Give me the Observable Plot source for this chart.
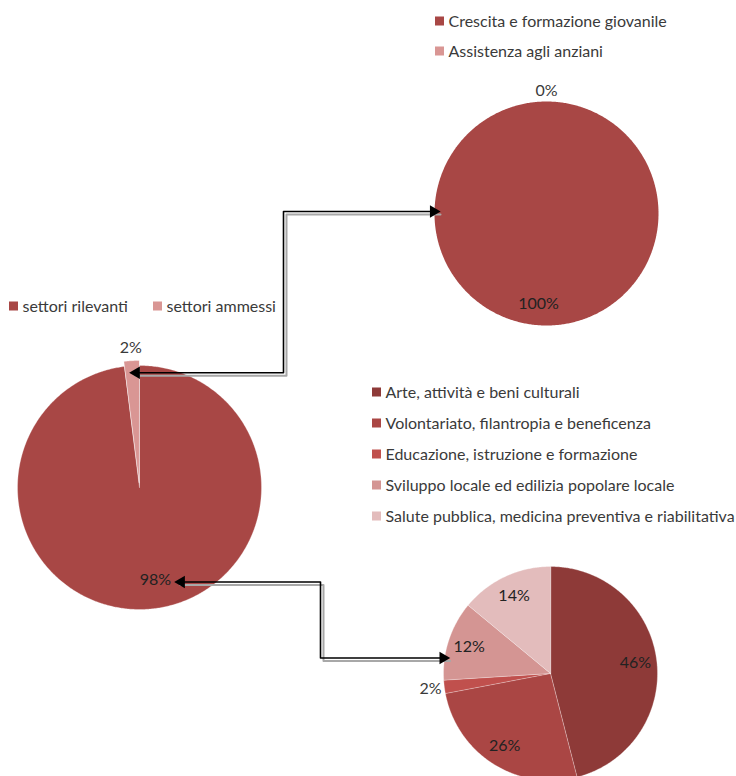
<!DOCTYPE html>
<html>
<head>
<meta charset="utf-8">
<script src="https://cdn.jsdelivr.net/npm/d3@7"></script>
<script src="https://cdn.jsdelivr.net/npm/@observablehq/plot@0.6"></script>
<style>
  body { margin: 0; background: #fff; }
</style>
</head>
<body>
<div id="chart"></div>
<script>
// ---------- DATA ----------
const mainCategories = ["settori rilevanti", "settori ammessi"];
const mainValues = [98, 2];
const mainColors = ["#A84745", "#D99694"];

const topCategories = ["Crescita e formazione giovanile", "Assistenza agli anziani"];
const topValues = [100, 0];
const topColors = ["#A84745", "#D99694"];

const detailCategories = [
  "Arte, attività e beni culturali",
  "Volontariato, filantropia e beneficenza",
  "Educazione, istruzione e formazione",
  "Sviluppo locale ed edilizia popolare locale",
  "Salute pubblica, medicina preventiva e riabilitativa"
];
const detailValues = [46, 26, 2, 12, 14];
const detailColors = ["#8E3A38", "#AA4644", "#C0504D", "#D49593", "#E3BCBC"];

// ---------- LAYOUT ----------
const W = 736, H = 776;
const FONT = "Lato, 'Open Sans', sans-serif";
const FS = 16;
const TEXT = "#3a3a3a";

const pies = [
  { id: "main",   cats: mainCategories,   vals: mainValues,   colors: mainColors,
    cx: 139, cy: 487, r: 122, inR: 0.76, outOff: 18, explode: { 1: 5 }, labelDx: [10, 0] },
  { id: "top",    cats: topCategories,    vals: topValues,    colors: topColors,
    cx: 546, cy: 213, r: 112, inR: 0.81, outOff: 11, explode: {}, labelDx: [-8, 0] },
  { id: "detail", cats: detailCategories, vals: detailValues, colors: detailColors,
    cx: 550, cy: 673, r: 107, inR: 0.80, outOff: 14, explode: {}, labelDx: [0, 0, 0, 0, 0] }
];

const legends = [
  { pie: "top",    x: [435, 435], y: [21, 51] },
  { pie: "main",   x: [9, 153],   y: [306, 306] },
  { pie: "detail", x: [372, 372, 372, 372, 372], y: [392, 423, 454, 485, 516] }
];

// ---------- GEOMETRY ----------
const sliceVerts = [];
const labels = [];
const anchors = {};
for (const p of pies) {
  const arcs = d3.pie().sort(null).startAngle(0).endAngle(2 * Math.PI)(p.vals);
  anchors[p.id] = [];
  arcs.forEach((a, i) => {
    const mid = (a.startAngle + a.endAngle) / 2;
    const ex = p.explode[i] || 0;
    const cx = p.cx + ex * Math.sin(mid), cy = p.cy - ex * Math.cos(mid);
    const key = p.id + i;
    const span = a.endAngle - a.startAngle;
    if (span > 0) {
      const full = span >= 2 * Math.PI - 1e-9;
      if (!full) sliceVerts.push({ key, x: cx, y: cy, color: p.colors[i], full });
      const n = Math.max(2, Math.ceil(span / 0.01));
      for (let k = 0; k <= (full ? n - 1 : n); k++) {
        const t = a.startAngle + span * k / n;
        sliceVerts.push({ key, x: cx + p.r * Math.sin(t), y: cy - p.r * Math.cos(t), color: p.colors[i], full });
      }
    }
    const pct = Math.round(100 * p.vals[i] / d3.sum(p.vals)) + "%";
    const outside = p.vals[i] < 5;
    const lr = outside ? p.r + p.outOff : p.r * p.inR;
    const lx = p.cx + lr * Math.sin(mid) + (p.labelDx[i] || 0);
    const ly = p.cy - lr * Math.cos(mid);
    labels.push({ x: lx, y: ly, text: pct, outside });
    anchors[p.id].push({ mid, lx, ly, cx: p.cx, cy: p.cy, r: p.r });
  });
}

// connectors (elbow lines between pies), derived from pie geometry
const mA = anchors.main[1], tA = anchors.top[0];
const mB = anchors.main[0], dB = anchors.detail[3];
const connectors = [
  { id: "c1",
    start: [mA.cx + (mA.r - 7) * Math.sin(mA.mid), mA.cy - (mA.r - 7) * Math.cos(mA.mid)],
    elbowX: 283,
    end: [tA.cx - tA.r + 3, tA.cy - 2] },
  { id: "c2",
    start: [mB.lx + 22, mB.ly + 2],
    elbowX: 320,
    end: [dB.lx - 22, dB.ly + 11] }
];
const connPts = [], shadowPts = [], heads = [];
for (const c of connectors) {
  const pts = [c.start, [c.elbowX, c.start[1]], [c.elbowX, c.end[1]], c.end];
  pts.forEach(([x, y]) => {
    connPts.push({ key: c.id, x, y });
    shadowPts.push({ key: c.id, x: x + 3, y: y + 3 });
  });
  heads.push({ x: c.start[0] + 4, y: c.start[1], rot: -90 });
  heads.push({ x: c.end[0] - 4, y: c.end[1], rot: 90 });
}

// legend items
const legendItems = [];
for (const L of legends) {
  const p = pies.find(d => d.id === L.pie);
  p.cats.forEach((c, i) => legendItems.push({ x: L.x[i], y: L.y[i], text: c, color: p.colors[i] }));
}

// ---------- PLOT ----------
const chart = Plot.plot({
  width: W, height: H, margin: 0,
  x: { domain: [0, W], range: [0, W], axis: null },
  y: { domain: [0, H], range: [0, H], axis: null },
  color: { type: "identity" },
  style: { fontFamily: FONT, background: "white", overflow: "hidden" },
  marks: [
    Plot.line(sliceVerts.filter(d => d.full), { x: "x", y: "y", z: "key", fill: "color", stroke: "none", curve: "linear-closed" }),
    Plot.line(sliceVerts.filter(d => !d.full), { x: "x", y: "y", z: "key", fill: "color", stroke: "#ffffff", strokeWidth: 0.5, strokeOpacity: 0.6, curve: "linear-closed" }),
    Plot.line(shadowPts, { x: "x", y: "y", z: "key", stroke: "#a8a8a8", strokeWidth: 2 }),
    Plot.line(connPts, { x: "x", y: "y", z: "key", stroke: "#000", strokeWidth: 1.6 }),
    Plot.dot(heads, { x: "x", y: "y", symbol: "triangle", r: 4.6, fill: "#000", stroke: "none", rotate: "rot" }),
    Plot.text(labels, { x: "x", y: "y", text: "text", fontSize: FS, fill: d => d.outside ? TEXT : "#222" }),
    Plot.rect(legendItems, { x1: d => d.x, x2: d => d.x + 9, y1: d => d.y - 4.5, y2: d => d.y + 4.5, fill: "color" }),
    Plot.text(legendItems, { x: d => d.x + 13, y: "y", text: "text", textAnchor: "start", fontSize: FS, fill: TEXT })
  ]
});
document.getElementById("chart").appendChild(chart);
</script>
</body>
</html>
